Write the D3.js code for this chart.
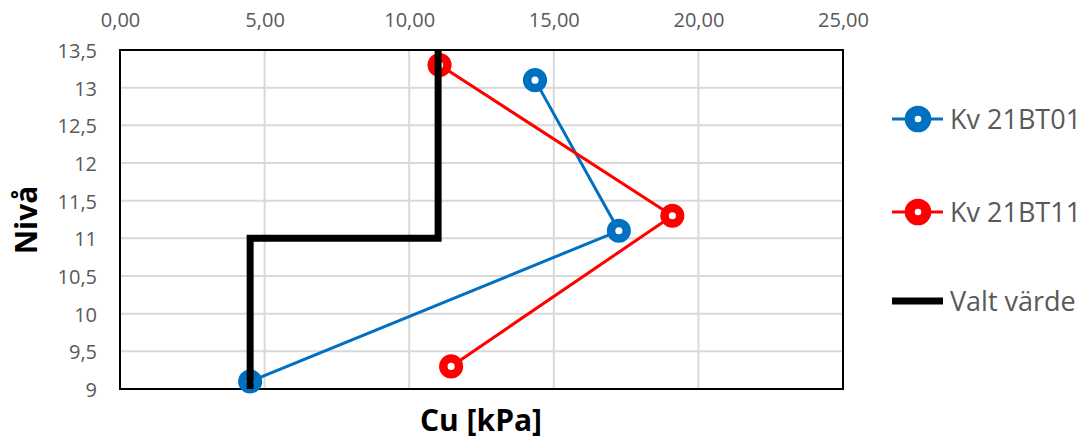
<!DOCTYPE html>
<html>
<head>
<meta charset="utf-8">
<script src="https://cdn.jsdelivr.net/npm/d3@7"></script>
<style>
  body { margin: 0; background: #fff; }
  svg text { font-family: "Open Sans", "Noto Sans", sans-serif; }
</style>
</head>
<body>
<svg id="chart" width="1089" height="439"></svg>
<script>
// series data (Cu in kPa, level)
var bt01Cu = [14.35, 17.25, 4.5];
var bt01Niva = [13.1, 11.1, 9.1];
var bt11Cu = [11.05, 19.1, 11.45];
var bt11Niva = [13.3, 11.3, 9.3];
var valtCu = [11, 11, 4.5, 4.5];
var valtNiva = [13.5, 11, 11, 9];

var xTicks = [0, 5, 10, 15, 20, 25];
var yTicks = [9, 9.5, 10, 10.5, 11, 11.5, 12, 12.5, 13, 13.5];
var seriesNames = ["Kv 21BT01", "Kv 21BT11", "Valt värde"];

var svg = d3.select("#chart");
var m = {left: 120, top: 50, right: 843, bottom: 389};

var x = d3.scaleLinear().domain([0, 25]).range([m.left, m.right]);
var y = d3.scaleLinear().domain([9, 13.5]).range([m.bottom, m.top]);

var fmtX = function(d){ return d3.format(".2f")(d).replace(".", ","); };
var fmtY = function(d){ return String(d).replace(".", ","); };

// gridlines
svg.append("g").selectAll("line").data(xTicks.slice(1, -1)).join("line")
    .attr("x1", x).attr("x2", x).attr("y1", m.top).attr("y2", m.bottom)
    .attr("stroke", "#d9d9d9").attr("stroke-width", 2);
svg.append("g").selectAll("line").data(yTicks.slice(1, -1)).join("line")
    .attr("y1", y).attr("y2", y).attr("x1", m.left).attr("x2", m.right)
    .attr("stroke", "#d9d9d9").attr("stroke-width", 2);

// top axis labels
var xAxis = d3.axisTop(x).tickValues(xTicks).tickFormat(fmtX).tickSize(0).tickPadding(0);
var gx = svg.append("g").attr("transform", "translate(0,27)").call(xAxis);
gx.select(".domain").remove();
gx.selectAll("text").attr("font-size", 20).attr("fill", "#595959")
    .attr("font-family", "\"Open Sans\", sans-serif");

var yAxis = d3.axisLeft(y).tickValues(yTicks).tickFormat(fmtY).tickSize(0).tickPadding(0);
var gy = svg.append("g").attr("transform", "translate(97,1)").call(yAxis);
gy.select(".domain").remove();
gy.selectAll("text").attr("font-size", 20).attr("fill", "#595959")
    .attr("font-family", "\"Open Sans\", sans-serif");

// plot border
svg.append("rect").attr("x", m.left).attr("y", m.top)
    .attr("width", m.right - m.left).attr("height", m.bottom - m.top)
    .attr("fill", "none").attr("stroke", "#000").attr("stroke-width", 2);

var line = d3.line().x(function(d){ return x(d[0]); }).y(function(d){ return y(d[1]); });

function drawSeries(cu, niva, color) {
    var pts = d3.zip(cu, niva);
    svg.append("path").datum(pts).attr("d", line)
        .attr("fill", "none").attr("stroke", color).attr("stroke-width", 3);
    svg.append("g").selectAll("circle").data(pts).join("circle")
        .attr("cx", function(d){ return x(d[0]); })
        .attr("cy", function(d){ return y(d[1]); })
        .attr("r", 7.8).attr("fill", "#fff")
        .attr("stroke", color).attr("stroke-width", 8.5);
}

drawSeries(bt01Cu, bt01Niva, "#0070c0");
drawSeries(bt11Cu, bt11Niva, "#ff0000");

svg.append("path").datum(d3.zip(valtCu, valtNiva)).attr("d", line)
    .attr("fill", "none").attr("stroke", "#000").attr("stroke-width", 7)
    .attr("stroke-linejoin", "miter").attr("stroke-linecap", "butt");

// axis titles
svg.append("text").attr("x", 481).attr("y", 431).attr("text-anchor", "middle")
    .attr("font-size", 30).attr("font-weight", "bold").attr("fill", "#000")
    .text("Cu [kPa]");
svg.append("text").attr("transform", "translate(37,220) rotate(-90)")
    .attr("text-anchor", "middle").attr("font-size", 30).attr("font-weight", "bold")
    .attr("fill", "#000").text("Nivå");

// legend
var legendY = [119, 212, 301];
var legendColor = ["#0070c0", "#ff0000", "#000"];
var lg = svg.append("g");
seriesNames.forEach(function(name, i) {
    var g = lg.append("g").attr("transform", "translate(0," + legendY[i] + ")");
    g.append("line").attr("x1", 892).attr("x2", 943).attr("y1", 0).attr("y2", 0)
        .attr("stroke", legendColor[i]).attr("stroke-width", i === 2 ? 7 : 3);
    if (i < 2) {
        g.append("circle").attr("cx", 918).attr("cy", 0).attr("r", 8.3)
            .attr("fill", "#fff").attr("stroke", legendColor[i]).attr("stroke-width", 10);
    }
    g.append("text").attr("x", 950).attr("y", 0).attr("dy", "0.36em")
        .attr("font-size", 27).attr("fill", "#595959").text(name);
});
</script>
</body>
</html>
